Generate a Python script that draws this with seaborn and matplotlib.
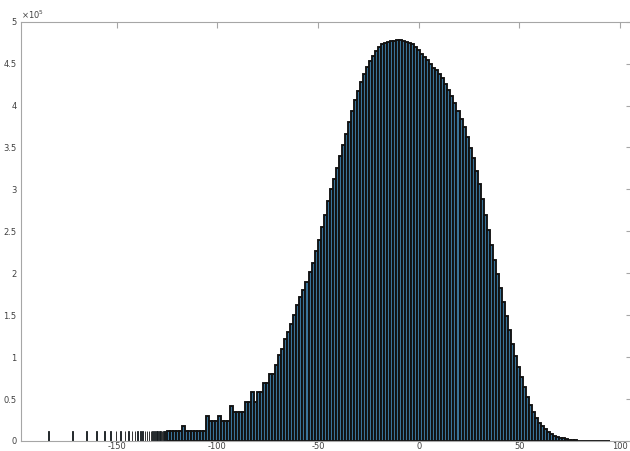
import numpy as np
import pandas as pd
import matplotlib
matplotlib.use("Agg")
import matplotlib.pyplot as plt
from matplotlib.ticker import FuncFormatter
import seaborn as sns

# ---------------- data (counts in units of 1e5) ----------------
bin_width = 1.5
first_center = -124.5
counts_e5 = [
    # -124.5 ... -61.5 (staircase region)
    0.117, 0.117, 0.117, 0.117, 0.117, 0.18, 0.117, 0.117, 0.117, 0.117,
    0.117, 0.117, 0.117, 0.30, 0.234, 0.234, 0.234, 0.30, 0.234, 0.234,
    0.234, 0.42, 0.35, 0.35, 0.35, 0.35, 0.47, 0.47, 0.58, 0.47,
    0.58, 0.58, 0.69, 0.69, 0.80, 0.80, 0.91, 1.03, 1.10, 1.22,
    1.30, 1.40, 1.50,
    # -60 ... 0
    1.62, 1.72, 1.80, 1.90, 2.02, 2.12, 2.26, 2.40, 2.55, 2.70,
    2.86, 3.00, 3.12, 3.25, 3.40, 3.53, 3.66, 3.80, 3.93, 4.07,
    4.17, 4.28, 4.38, 4.46, 4.53, 4.59, 4.65, 4.70, 4.73, 4.75,
    4.76, 4.77, 4.77, 4.78, 4.78, 4.77, 4.76, 4.75, 4.73, 4.70,
    4.66,
    # 1.5 ... 94.5
    4.62, 4.58, 4.54, 4.50, 4.45, 4.42, 4.38, 4.33, 4.26, 4.19,
    4.11, 4.03, 3.94, 3.84, 3.74, 3.62, 3.49, 3.37, 3.22, 3.06,
    2.88, 2.70, 2.52, 2.34, 2.16, 1.99, 1.83, 1.66, 1.49, 1.32,
    1.16, 1.01, 0.88, 0.76, 0.64, 0.53, 0.43, 0.35, 0.28, 0.22,
    0.18, 0.14, 0.11, 0.085, 0.065, 0.05, 0.038, 0.03, 0.022, 0.015,
    0.010, 0.006, 0.005, 0.004, 0.003, 0.0025, 0.002, 0.0015, 0.0012, 0.001,
    0.0008, 0.0006, 0.0004,
]

# isolated values in the far-left tail
spike_x = [-184.0, -171.9, -164.9, -160.0, -156.2, -153.0, -150.4, -148.0,
           -145.9, -144.1, -142.4, -140.9, -139.6, -138.3, -137.1, -136.0,
           -135.0, -134.0, -133.0, -132.1, -131.2, -130.4, -129.6, -128.9,
           -128.2, -127.5, -126.8, -126.2, -125.6]
spike_e5 = [0.117] * len(spike_x)

x_ticks = [-150, -100, -50, 0, 50, 100]
y_ticks = [0, 0.5, 1, 1.5, 2, 2.5, 3, 3.5, 4, 4.5, 5]

# ---------------- style ----------------
sns.set_theme(style="white")
plt.rcParams['font.family'] = ['DejaVu Sans']
plt.rcParams['axes.unicode_minus'] = False

face = '#3a7399'
axis_grey = '#a6a6a6'
text_grey = '#404040'

fig = plt.figure(figsize=(6.3, 4.51), dpi=100)
ax = fig.add_axes([0.0329, 0.0222, 0.9705, 0.9297])

centers = [first_center + bin_width * i for i in range(len(counts_e5))]
main_df = pd.DataFrame({'value': centers, 'count': counts_e5})
edges = [c - bin_width / 2 for c in centers] + [centers[-1] + bin_width / 2]
sns.histplot(data=main_df, x='value', weights='count', bins=edges, ax=ax,
             color=face, edgecolor='#111111', linewidth=1.35, alpha=1)

spike_df = pd.DataFrame({'value': spike_x, 'count': spike_e5})
spike_edges = []
for s in sorted(spike_x):
    spike_edges += [s - 0.2, s + 0.2]
sns.histplot(data=spike_df, x='value', weights='count', bins=spike_edges, ax=ax,
             color=face, edgecolor='#111111', linewidth=0.6, alpha=1)

ax.set_xlim(-197.7, 106)
ax.set_ylim(0, 5)
ax.set_xticks(x_ticks)
ax.set_yticks(y_ticks)
ax.xaxis.set_major_formatter(FuncFormatter(lambda v, p: f"{int(v)}"))
ax.yaxis.set_major_formatter(FuncFormatter(lambda v, p: f"{v:g}"))
ax.set_xlabel('')
ax.set_ylabel('')

for sp in ax.spines.values():
    sp.set_color(axis_grey)
    sp.set_linewidth(0.8)
    sp.set_visible(True)

ax.tick_params(axis='both', which='major', direction='in', length=4,
               width=0.8, color=axis_grey, labelsize=6, labelcolor=text_grey,
               top=True, right=True)
ax.tick_params(axis='x', pad=0.5)
ax.tick_params(axis='y', pad=3)

fig.text(0.034, 0.958, r'$\times10^{5}$', fontsize=6, color=text_grey)

fig.savefig('out.png', dpi=100)
